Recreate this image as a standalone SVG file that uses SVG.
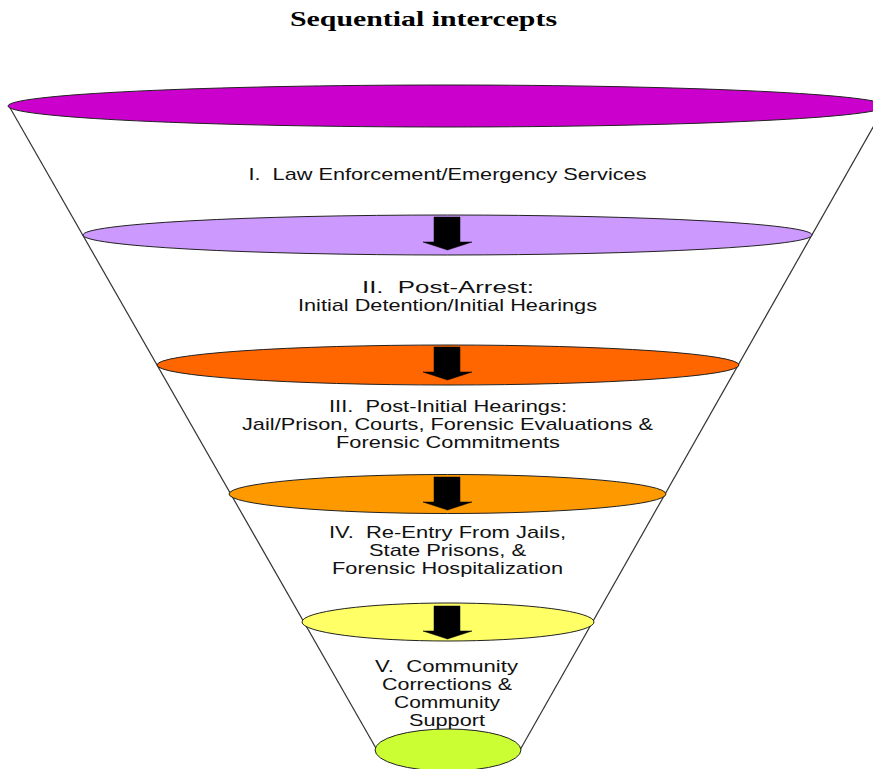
<svg xmlns="http://www.w3.org/2000/svg" width="873" height="769" viewBox="0 0 873 769">
<defs>
<style>
.ell{stroke:#222;stroke-width:1}
.lbl{font-family:"Liberation Sans",Arial,sans-serif;font-size:17px;fill:#111;text-anchor:middle;white-space:pre}
.title{font-family:"Liberation Serif","Times New Roman",serif;font-size:20px;font-weight:bold;fill:#000;text-anchor:middle}
.arr{fill:#000;stroke:#000;stroke-width:0.5}
.edge{stroke:#333;stroke-width:1.2;fill:none}
</style>
<path id="arrow" d="M-13.5,0 H12.5 V25 H24.5 L0,33 L-24.5,25 H-13.5 Z"/>
</defs>
<rect width="873" height="769" fill="#fff"/>
<text class="title" x="423.5" y="26" textLength="267" lengthAdjust="spacingAndGlyphs">Sequential intercepts</text>
<g id="connectors">
<line class="edge" x1="9" y1="106" x2="377" y2="750"/>
<line class="edge" x1="885" y1="106" x2="520" y2="750"/>
</g>
<g id="level1">
<ellipse class="ell" cx="447" cy="106" rx="439" ry="21" fill="#CC00CC"/>
<text class="lbl" xml:space="preserve" x="447.5" y="180" textLength="398" lengthAdjust="spacingAndGlyphs">I.  Law Enforcement/Emergency Services</text>
</g>
<g id="level2">
<ellipse class="ell" cx="447.5" cy="235" rx="364.5" ry="20" fill="#CC99FF"/>
<use href="#arrow" class="arr" x="447.5" y="217"/>
<text class="lbl" xml:space="preserve" x="448" y="293" textLength="172" lengthAdjust="spacingAndGlyphs">II.  Post-Arrest:</text>
<text class="lbl" x="447.5" y="311" textLength="299" lengthAdjust="spacingAndGlyphs">Initial Detention/Initial Hearings</text>
</g>
<g id="level3">
<ellipse class="ell" cx="448" cy="365" rx="291" ry="20" fill="#FF6600"/>
<use href="#arrow" class="arr" x="447.5" y="347"/>
<text class="lbl" xml:space="preserve" x="448" y="412" textLength="238" lengthAdjust="spacingAndGlyphs">III.  Post-Initial Hearings:</text>
<text class="lbl" x="447.5" y="430" textLength="411" lengthAdjust="spacingAndGlyphs">Jail/Prison, Courts, Forensic Evaluations &amp;</text>
<text class="lbl" x="448" y="448" textLength="224" lengthAdjust="spacingAndGlyphs">Forensic Commitments</text>
</g>
<g id="level4">
<ellipse class="ell" cx="447.5" cy="494" rx="218.5" ry="19.5" fill="#FF9900"/>
<use href="#arrow" class="arr" x="447.5" y="477"/>
<text class="lbl" xml:space="preserve" x="447.5" y="538" textLength="237" lengthAdjust="spacingAndGlyphs">IV.  Re-Entry From Jails,</text>
<text class="lbl" x="447.5" y="556" textLength="157" lengthAdjust="spacingAndGlyphs">State Prisons, &amp;</text>
<text class="lbl" x="447.5" y="574" textLength="231" lengthAdjust="spacingAndGlyphs">Forensic Hospitalization</text>
</g>
<g id="level5">
<ellipse class="ell" cx="448" cy="622" rx="146" ry="19" fill="#FFFF66"/>
<use href="#arrow" class="arr" x="447.5" y="606"/>
<text class="lbl" xml:space="preserve" x="446.5" y="672" textLength="143" lengthAdjust="spacingAndGlyphs">V.  Community</text>
<text class="lbl" x="447" y="690" textLength="130" lengthAdjust="spacingAndGlyphs">Corrections &amp;</text>
<text class="lbl" x="447" y="708" textLength="106" lengthAdjust="spacingAndGlyphs">Community</text>
<text class="lbl" x="447" y="726" textLength="76" lengthAdjust="spacingAndGlyphs">Support</text>
</g>
<g id="level6">
<ellipse class="ell" cx="448" cy="750" rx="73" ry="21" fill="#CCFF33"/>
</g>
</svg>
